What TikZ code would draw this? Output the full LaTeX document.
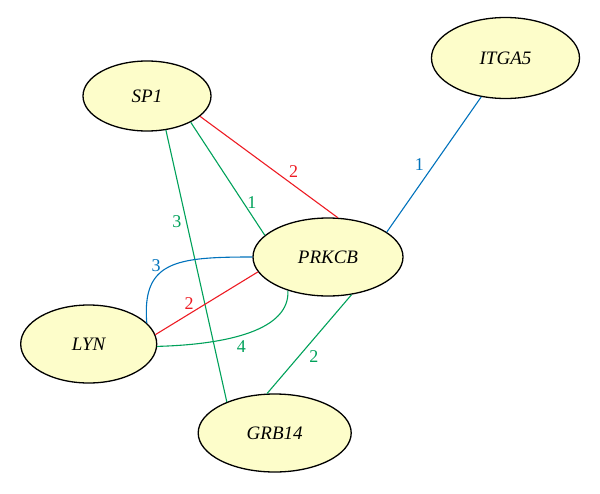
\documentclass[tikz,border=0pt]{standalone}
\usepackage{fontspec}
\setmainfont{Liberation Serif}
\usetikzlibrary{shapes.geometric}

\begin{document}
\begin{tikzpicture}[x=1pt,y=1pt,yscale=-1,xscale=1,
  gene/.style={ellipse,draw,line width=1.3pt,fill={rgb,255:red,253;green,253;blue,202},inner sep=0pt,font=\fontsize{19}{22}\selectfont\itshape},
  link/.style={line width=1.1pt},
  lbl/.style={inner sep=1.5pt,font=\fontsize{18}{21}\selectfont}]
\useasboundingbox (0,0) rectangle (600,493);

%Shape: Ellipse [SP1]
\node [gene,minimum width=128,minimum height=70] (sp1) at (147,96) {SP1};
%Shape: Ellipse [ITGA5]
\node [gene,minimum width=148,minimum height=81] (itga5) at (505.5,58) {ITGA5};
%Shape: Ellipse [PRKCB]
\node [gene,minimum width=150,minimum height=78] (prkcb) at (328,257) {PRKCB};
%Shape: Ellipse [LYN]
\node [gene,minimum width=136,minimum height=78] (lyn) at (88.7,344) {LYN};
%Shape: Ellipse [GRB14]
\node [gene,minimum width=153,minimum height=78] (grb14) at (274.7,433) {GRB14};

%Straight Lines [SP1 - PRKCB, red]
\draw [link,color={rgb, 255:red, 237; green, 28; blue, 36 }] (sp1.-21) -- node [lbl,pos=0.68,above=6pt,text={rgb, 255:red, 237; green, 28; blue, 36 }] {2} (prkcb.76);
%Straight Lines [SP1 - PRKCB, green]
\draw [link,color={rgb, 255:red, 0; green, 161; blue, 90 }] (sp1.-31) -- node [lbl,pos=0.71,right=2pt,text={rgb, 255:red, 0; green, 161; blue, 90 }] {1} (prkcb.161);
%Straight Lines [SP1 - GRB14, green]
\draw [link,color={rgb, 255:red, 0; green, 161; blue, 90 }] (sp1.-61) -- node [lbl,pos=0.335,left=3pt,text={rgb, 255:red, 0; green, 161; blue, 90 }] {3} (grb14.147);
%Straight Lines [ITGA5 - PRKCB, blue]
\draw [link,color={rgb, 255:red, 0; green, 114; blue, 188 }] (itga5.238) -- node [lbl,pos=0.5,left=8pt,text={rgb, 255:red, 0; green, 114; blue, 188 }] {1} (prkcb.23);
%Straight Lines [LYN - PRKCB, red]
\draw [link,color={rgb, 255:red, 237; green, 28; blue, 36 }] (lyn.8) -- node [lbl,pos=0.33,above=2pt,text={rgb, 255:red, 237; green, 28; blue, 36 }] {2} (prkcb.192);
%Curve Lines [LYN - PRKCB, blue]
\draw [link,color={rgb, 255:red, 0; green, 114; blue, 188 }] (lyn.20) .. controls +(-5,-62) and +(-76,0) .. node [lbl,pos=0.35,above=3pt,text={rgb, 255:red, 0; green, 114; blue, 188 }] {3} (prkcb.180);
%Curve Lines [LYN - PRKCB, green]
\draw [link,color={rgb, 255:red, 0; green, 161; blue, 90 }] (lyn.-2.5) .. controls +(72,-2) and +(2,39) .. node [lbl,pos=0.44,below=3pt,text={rgb, 255:red, 0; green, 161; blue, 90 }] {4} (prkcb.220);
%Straight Lines [PRKCB - GRB14, green]
\draw [link,color={rgb, 255:red, 0; green, 161; blue, 90 }] (prkcb.302) -- node [lbl,pos=0.63,right=9pt,text={rgb, 255:red, 0; green, 161; blue, 90 }] {2} (grb14.101);

\end{tikzpicture}
\end{document}
